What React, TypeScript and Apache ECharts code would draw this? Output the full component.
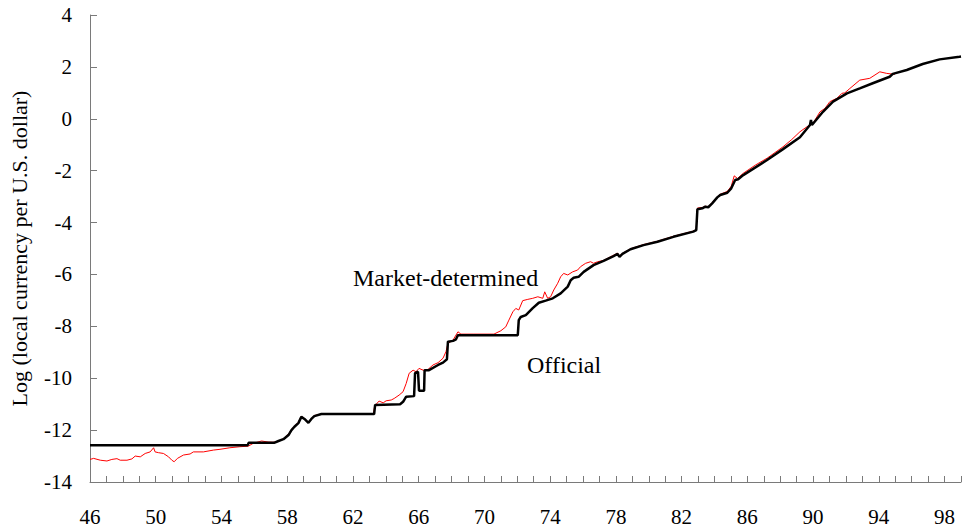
import React, { useEffect, useRef } from "react";
import * as echarts from "echarts";

// Tick labels
const xTickLabels: number[] = [46, 50, 54, 58, 62, 66, 70, 74, 78, 82, 86, 90, 94, 98];
const yTickLabels: number[] = [-14, -12, -10, -8, -6, -4, -2, 0, 2, 4];

// Series names / annotations
const seriesNames: string[] = ["Market-determined", "Official"];
const yAxisTitle = "Log (local currency per U.S. dollar)";

// Official exchange rate: [year (19xx), log value]
const officialSeries: [number, number][] = [
  [46.0, -12.58], [55.6, -12.58], [55.65, -12.49], [57.2, -12.49], [57.47, -12.42],
  [57.77, -12.35], [58.08, -12.19], [58.26, -12.0], [58.44, -11.87], [58.68, -11.73],
  [58.86, -11.49], [59.05, -11.57], [59.29, -11.72], [59.47, -11.57], [59.65, -11.46],
  [60.08, -11.38], [63.29, -11.38], [63.35, -11.03], [64.87, -11.0], [65.05, -10.91],
  [65.24, -10.71], [65.72, -10.69], [65.78, -9.8], [65.96, -9.75], [66.02, -10.48],
  [66.33, -10.48], [66.36, -9.69], [66.63, -9.69], [67.18, -9.49], [67.48, -9.4],
  [67.72, -9.27], [67.78, -8.59], [68.09, -8.56], [68.27, -8.5], [68.39, -8.34],
  [72.03, -8.34], [72.09, -7.76], [72.21, -7.64], [72.52, -7.57], [72.94, -7.3],
  [73.31, -7.09], [73.73, -7.01], [74.16, -6.92], [74.64, -6.73], [75.07, -6.47],
  [75.25, -6.22], [75.43, -6.13], [75.73, -6.09], [76.04, -5.9], [76.64, -5.64],
  [77.25, -5.48], [77.86, -5.29], [78.1, -5.21], [78.22, -5.32], [78.4, -5.21],
  [78.89, -5.03], [79.68, -4.87], [80.53, -4.74], [81.5, -4.55], [82.71, -4.35],
  [82.89, -4.29], [82.96, -3.49], [83.26, -3.45], [83.44, -3.39], [83.62, -3.41],
  [83.86, -3.26], [84.17, -3.03], [84.35, -2.94], [84.78, -2.85], [85.02, -2.68],
  [85.26, -2.36], [85.44, -2.33], [85.75, -2.17], [87.2, -1.59], [88.17, -1.17],
  [89.2, -0.71], [89.81, -0.24], [89.87, -0.05], [89.93, -0.24], [90.6, 0.27],
  [91.21, 0.66], [92.06, 0.98], [92.84, 1.17], [93.63, 1.37], [94.66, 1.62],
  [94.85, 1.73], [95.7, 1.88], [96.67, 2.11], [97.7, 2.29], [98.91, 2.39], [99.0, 2.4],
];

// Market-determined exchange rate: [year (19xx), log value]
const marketSeries: [number, number][] = [
  [46.0, -13.13], [46.22, -13.09], [46.63, -13.16], [47.03, -13.19], [47.33, -13.13],
  [47.64, -13.1], [47.84, -13.16], [48.25, -13.16], [48.55, -13.11], [48.75, -13.0],
  [49.06, -13.03], [49.36, -12.9], [49.66, -12.84], [49.87, -12.68], [49.96, -12.84],
  [50.17, -12.87], [50.47, -12.9], [50.78, -13.03], [50.98, -13.16], [51.12, -13.22],
  [51.32, -13.09], [51.69, -12.96], [52.09, -12.92], [52.29, -12.84], [52.9, -12.84],
  [53.51, -12.77], [53.91, -12.74], [54.51, -12.68], [55.12, -12.64], [55.63, -12.62],
  [55.93, -12.51], [56.44, -12.42], [56.84, -12.46], [57.15, -12.47], [57.47, -12.42],
  [57.77, -12.33], [58.08, -12.15], [58.26, -11.98], [58.44, -11.85], [58.68, -11.7],
  [58.86, -11.47], [59.05, -11.55], [59.29, -11.7], [59.47, -11.55], [59.65, -11.44],
  [60.08, -11.38], [63.25, -11.38], [63.32, -11.07], [63.59, -10.88], [63.84, -10.95],
  [64.02, -10.87], [64.33, -10.84], [64.51, -10.78], [64.81, -10.65], [65.05, -10.52],
  [65.24, -10.2], [65.42, -9.81], [65.66, -9.69], [65.84, -9.75], [66.02, -9.62],
  [66.27, -9.69], [66.57, -9.66], [66.87, -9.49], [67.18, -9.4], [67.48, -9.23],
  [67.66, -8.98], [67.78, -8.66], [68.09, -8.53], [68.39, -8.21], [68.57, -8.3],
  [69.36, -8.3], [70.58, -8.3], [71.0, -8.17], [71.3, -8.02], [71.49, -7.76],
  [71.73, -7.44], [71.91, -7.31], [72.09, -7.37], [72.33, -7.01], [72.64, -6.96],
  [72.94, -6.92], [73.25, -6.86], [73.55, -6.92], [73.67, -6.67], [73.85, -6.92],
  [74.03, -6.86], [74.22, -6.6], [74.46, -6.34], [74.64, -6.09], [74.82, -5.96],
  [75.07, -6.02], [75.37, -5.9], [75.67, -5.83], [75.85, -5.7], [76.16, -5.57],
  [76.46, -5.51], [76.64, -5.57], [76.89, -5.51], [77.25, -5.46], [77.86, -5.26],
  [78.1, -5.18], [78.22, -5.29], [78.4, -5.19], [78.89, -5.01], [79.68, -4.85],
  [80.53, -4.72], [81.5, -4.53], [82.71, -4.33], [82.89, -4.27], [82.96, -3.44],
  [83.26, -3.42], [83.44, -3.37], [83.62, -3.39], [83.86, -3.23], [84.17, -3.0],
  [84.35, -2.91], [84.78, -2.8], [85.02, -2.6], [85.2, -2.2], [85.4, -2.3],
  [85.75, -2.1], [86.5, -1.78], [87.2, -1.52], [88.17, -1.08], [88.7, -0.8],
  [89.2, -0.5], [89.62, -0.31], [89.99, -0.18], [90.42, 0.27], [90.72, 0.4],
  [91.02, 0.66], [91.45, 0.79], [91.75, 0.98], [91.93, 1.0], [92.24, 1.17],
  [92.84, 1.49], [93.45, 1.56], [94.06, 1.81], [94.48, 1.75], [94.97, 1.71],
];

const FONT = "'Liberation Serif', 'Times New Roman', serif";

export default function App() {
  const ref = useRef<HTMLDivElement>(null);

  useEffect(() => {
    if (!ref.current) return;
    const chart = echarts.init(ref.current, undefined, { renderer: "svg" });
    const axisColor = "#7a7a7a";
    chart.setOption({
      animation: false,
      backgroundColor: "#ffffff",
      grid: { left: 88, right: 3, top: 15, bottom: 49, containLabel: false },
      xAxis: {
        type: "value",
        min: 46,
        max: 99,
        interval: 1,
        axisLine: { show: true, onZero: false, lineStyle: { color: axisColor, width: 1 } },
        axisTick: { show: true, inside: true, length: 6, lineStyle: { color: axisColor, width: 1 } },
        axisLabel: {
          margin: 24,
          color: "#000",
          fontFamily: FONT,
          fontSize: 21,
          formatter: (v: number) => (xTickLabels.includes(Math.round(v)) ? String(Math.round(v)) : ""),
        },
        splitLine: { show: false },
      },
      yAxis: {
        type: "value",
        min: yTickLabels[0],
        max: yTickLabels[yTickLabels.length - 1],
        interval: 2,
        name: yAxisTitle,
        nameLocation: "middle",
        nameGap: 60,
        nameRotate: 90,
        nameTextStyle: { fontFamily: FONT, fontSize: 22, color: "#000" },
        axisLine: { show: true, onZero: false, lineStyle: { color: axisColor, width: 1 } },
        axisTick: { show: true, inside: true, length: 7, lineStyle: { color: axisColor, width: 1 } },
        axisLabel: { margin: 18, color: "#000", fontFamily: FONT, fontSize: 21 },
        splitLine: { show: false },
      },
      series: [
        {
          name: seriesNames[0],
          type: "line",
          data: marketSeries,
          showSymbol: false,
          symbol: "none",
          lineStyle: { color: "#ff0000", width: 1 },
          z: 2,
        },
        {
          name: seriesNames[1],
          type: "line",
          data: officialSeries,
          showSymbol: false,
          symbol: "none",
          lineStyle: { color: "#000000", width: 2.5 },
          z: 3,
        },
      ],
      graphic: [
        {
          type: "text",
          x: 353,
          y: 278,
          style: { text: seriesNames[0], fontFamily: FONT, fontSize: 24, fill: "#000", verticalAlign: "middle", align: "left" },
        },
        {
          type: "text",
          x: 527,
          y: 365,
          style: { text: seriesNames[1], fontFamily: FONT, fontSize: 24, fill: "#000", verticalAlign: "middle", align: "left" },
        },
      ],
    });
    return () => chart.dispose();
  }, []);

  return (
    <div
      ref={ref}
      style={{ position: "fixed", left: 0, top: 0, width: 964, height: 531, background: "#fff" }}
    />
  );
}
